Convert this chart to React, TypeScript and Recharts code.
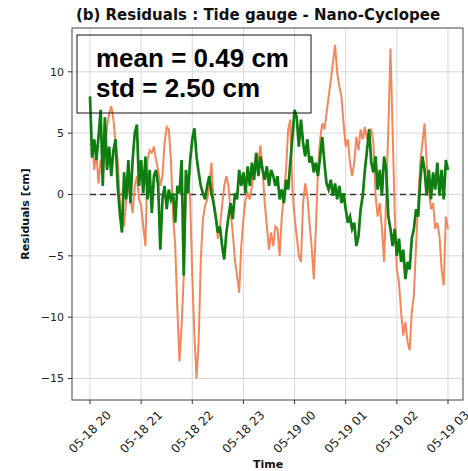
import { LineChart, Line, XAxis, YAxis, CartesianGrid, ReferenceLine } from 'recharts';

// residuals sampled every 2.5 min from 05-18 20:00 (cm)
const orangeResid = [
  4, 4.2, 2, 3.4, 0.9, 2.8, 2, 3.4, 5.5, 6.6, 7.2, 6.1, 4.2, 2.8, -0.4, -2, -2.6, -0.4, 0.7, -0.4,
  -1.5, 0.7, 1.5, -0.4, -0.9, -2.6, -4.2, 2.8, 3.6, 3.4, 3.9, 2.8, 2, 0.7, 1.5, 4.2, 5.5, 5.3, 2.8, -1.8,
  -4.2, -9.3, -13.6, -10.7, -6.6,
  0.1, 1.2, -0.4, -6.6, -11.5, -15, -12, -5.3, -2, -0.9, -0.4, 0.7, 2.6, -0.7, -1.8, -3.6, -2.6, -0.9, 0.7, 1.5,
  0.7, -1.5, -3.1, -5.3, -6.6, -8, -4.2, -2, -0.4, 0.1, -0.4, 0.7, 2, 3.4, 2.8, 4, 2, -0.7, -2.6, -4.5,
  -3.1, -4.2, -2.6,
  -2.8, -5, -1.8, -0.1, 2, 5.3, 6.1, 0.4, -1.8, -3.4, -5, -5.5, -0.7, 0.9, -0.1, -2.3, -4.2, -6.9, -2.8, 2,
  4.5, 5.8, 5.3, 6.6, 8, 9.3, 10.7, 12.2, 9.9, 8.8, 8, 5.8, 3.9, 4.5, 2.6, 1.5, 2.6, 4.7, 3.6, 5.3,
  4.5, 5.5, 4.5, 5.3,
  5.3, 4.2, -0.1, -1.8, -0.7, -2.8, -5.5, -0.1, 5.3, 11.9, 5.3, -1.5, -6.1, -7.2, -9.6, -11.5, -10.4, -12, -12.7, -9.6,
  -8.2, -4.2, -0.7, 2.6, 4.2, 5.8, 2.6, 0.4, -1.2, -0.7, -2.8, -2.3, -3.4, -6.1, -7.4, -1.8, -2.8,
];

const greenResid = [
  8, 3, 4.5, 2.8, 4.7, 6.9, 0.7, 6.3, 2, 3.9, 1.5, 3.6, 4.5, 0.7, -1.5, -3.1, 1.8, -0.4, 2.8, -0.7,
  2.8, 5, 5.7, 0.7, 2.8, 0.1, 3.1, -0.4, 2, -1.5, 1.5, 2, 0.7, -4.5, -0.4, 0.7, -1.2, 0.4, -0.4, 0.1,
  -2.3, 0.7, 0.1, 2.8, -6.6,
  2, 0.1, 2.8, 4.5, 5.4, 3.1, 1.8, 0.7, 0.1, -0.4, 0.7, 1.5, 0.1, -0.7, -1.8, -3.1, -2.6, -4.2, -5.3, -3.1,
  -1.8, -0.7, -2, 0.1, -0.4, 2, 0.7, 1.8, 0.1, 2.3, 0.7, 2.6, 1.2, 3.4, 1.5, 3.1, 2, 1.2, 2.3, 0.7,
  2, 1.5, 0.7,
  1.5, -0.4, 0.4, -0.7, 1.2, 0.4, 2.6, 4.7, 6.9, 6.3, 3.9, 6.1, 4.2, 3.1, 4.5, 2.6, 3.1, 1.8, 2.6, 1.5,
  3.1, 4.7, 2.6, 0.9, 0.4, 1.2, -0.1, 0.9, -0.4, 0.7, -0.7, 0.1, -1.2, -2.3, -1.8, -2.8, -2.3, -4.2, -3.4, -1.2,
  -0.1, 2, 3.6, 5.3,
  2.6, 1.8, 3.1, 0.4, 2, -0.1, 3.1, 2, -1.8, -2.8, -4.2, -2.8, -5, -3.6, -5.5, -4.5, -6.9, -5.5, -6.1, -3.6,
  -2.8, -1.2, -1.8, 1.2, 3.1, 2, -0.1, 2, -0.4, 1.8, 0.4, 2.6, -0.1, 2, -0.4, 2.8, 2,
];

const hourTicks = [0, 60, 120, 180, 240, 300, 360, 420];
const hourLabels = ['05-18 20', '05-18 21', '05-18 22', '05-18 23', '05-19 00', '05-19 01', '05-19 02', '05-19 03'];
const yTicks = [-15, -10, -5, 0, 5, 10];

const STEP = 2.5;
const data = greenResid.map((g, i) => ({ t: i * STEP, orange: orangeResid[i], green: g }));

const W = 468;
const H = 471;
const M = { top: 28, right: 5, bottom: 0, left: 0 };
const Y_W = 72;
const X_H = 71;

const tickFont = '"DejaVu Sans", sans-serif';
const boxFont = '"Liberation Sans", Arial, sans-serif';

function TimeTick(props: any) {
  const { x, y, payload } = props;
  const idx = hourTicks.indexOf(payload.value);
  return (
    <g transform={`translate(${x},${y + 26}) rotate(-45)`}>
      <text textAnchor="middle" dominantBaseline="central" fontSize={12} fontFamily={tickFont} fill="#222">
        {hourLabels[idx]}
      </text>
    </g>
  );
}

const fmtY = (v: number) => (v < 0 ? '\u2212' + Math.abs(v) : String(v));

export default function App() {
  const plotL = M.left + Y_W;
  const plotR = W - M.right;
  const plotT = M.top;
  const plotB = H - M.bottom - X_H;
  return (
    <div style={{ position: 'absolute', left: 0, top: 0, width: W, height: H, background: '#fff' }}>
      <LineChart width={W} height={H} data={data} margin={M}>
        <CartesianGrid stroke="#d8d8d8" strokeWidth={1} horizontalValues={yTicks} verticalValues={hourTicks} />
        <XAxis
          dataKey="t"
          type="number"
          domain={[-21.1, 437.6]}
          ticks={hourTicks}
          allowDataOverflow
          height={X_H}
          tickSize={4}
          axisLine={false}
          tickLine={{ stroke: '#333' }}
          tick={<TimeTick />}
        />
        <YAxis
          type="number"
          domain={[-16.75, 13.57]}
          ticks={yTicks}
          allowDataOverflow
          width={Y_W}
          tickSize={4}
          tickMargin={4}
          axisLine={false}
          tickLine={{ stroke: '#333' }}
          tickFormatter={fmtY}
          tick={{ fontSize: 11, fontFamily: tickFont, fill: '#222' }}
        />
        <ReferenceLine
          segment={[{ x: 0, y: 0 }, { x: 420, y: 0 }]}
          stroke="#333"
          strokeWidth={1.6}
          strokeDasharray="6 4"
        />
        <Line type="linear" dataKey="orange" stroke="#f5865a" strokeWidth={2} dot={false} isAnimationActive={false} />
        <Line type="linear" dataKey="green" stroke="#107d10" strokeWidth={2.7} dot={false} isAnimationActive={false} />
      </LineChart>
      <svg width={W} height={H} style={{ position: 'absolute', left: 0, top: 0, pointerEvents: 'none' }}>
        <rect x={plotL} y={plotT} width={plotR - plotL} height={plotB - plotT} fill="none" stroke="#444" strokeWidth={1} />
        <text x={258} y={20} textAnchor="middle" fontSize={15} fontWeight="bold" fontFamily={tickFont} fill="#111">
          (b) Residuals : Tide gauge - Nano-Cyclopee
        </text>
        <text
          transform={`translate(29,${(plotT + plotB) / 2}) rotate(-90)`}
          textAnchor="middle"
          fontSize={11}
          fontWeight="bold"
          fontFamily={tickFont}
          fill="#111"
        >
          Residuals [cm]
        </text>
        <text x={268} y={468} textAnchor="middle" fontSize={11} fontWeight="bold" fontFamily={tickFont} fill="#111">
          Time
        </text>
        <rect x={77} y={35} width={234} height={78} fill="none" stroke="#111" strokeWidth={1} />
        <text x={96} y={67} fontSize={26} fontWeight="bold" fontFamily={boxFont} fill="#000">
          mean = 0.49 cm
        </text>
        <text x={96} y={97} fontSize={26} fontWeight="bold" fontFamily={boxFont} fill="#000">
          std = 2.50 cm
        </text>
      </svg>
    </div>
  );
}
